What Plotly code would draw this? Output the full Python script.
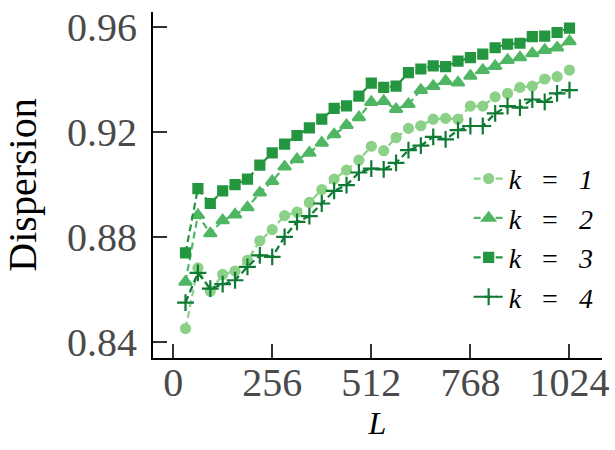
import plotly.graph_objects as go

L = [32 * i for i in range(1, 33)]

k1 = [0.8451, 0.8682, 0.8593, 0.8657, 0.8670, 0.8711, 0.8785, 0.8828, 0.8881, 0.8894,
      0.8931, 0.8980, 0.9020, 0.9054, 0.9092, 0.9145, 0.9128, 0.9178, 0.9213, 0.9223,
      0.9248, 0.9251, 0.9248, 0.9298, 0.9298, 0.9333, 0.9346, 0.9369, 0.9374, 0.9401,
      0.9410, 0.9435]
k2 = [0.8629, 0.8883, 0.8813, 0.8863, 0.8885, 0.8912, 0.8968, 0.9012, 0.9067, 0.9095,
      0.9120, 0.9158, 0.9190, 0.9225, 0.9255, 0.9313, 0.9317, 0.9286, 0.9305, 0.9359,
      0.9374, 0.9393, 0.9387, 0.9413, 0.9435, 0.9450, 0.9473, 0.9483, 0.9498, 0.9511,
      0.9520, 0.9544]
k3 = [0.8739, 0.8984, 0.8927, 0.8975, 0.8999, 0.9020, 0.9073, 0.9120, 0.9153, 0.9186,
      0.9215, 0.9248, 0.9289, 0.9299, 0.9336, 0.9385, 0.9369, 0.9374, 0.9425, 0.9439,
      0.9451, 0.9448, 0.9469, 0.9482, 0.9496, 0.9520, 0.9534, 0.9537, 0.9562, 0.9564,
      0.9578, 0.9595]
k4 = [0.8550, 0.8663, 0.8603, 0.8620, 0.8635, 0.8686, 0.8730, 0.8724, 0.8800, 0.8857,
      0.8879, 0.8927, 0.8975, 0.8997, 0.9045, 0.9060, 0.9057, 0.9082, 0.9130, 0.9147,
      0.9181, 0.9171, 0.9206, 0.9222, 0.9222, 0.9270, 0.9298, 0.9292, 0.9323, 0.9314,
      0.9346, 0.9359]

sp = " \u2002"
names = [f"<i>k</i>{sp}={sp}<i>{i}</i>" for i in (1, 2, 3, 4)]
series = [k1, k2, k3, k4]
colors = ["#8bd187", "#4fb663", "#24963f", "#0e7a34"]
symbols = ["circle", "triangle-up", "square", "cross-thin-open"]
sizes = [9, 11, 9, 12]

xticks = [0, 256, 512, 768, 1024]
yticks = [0.84, 0.88, 0.92, 0.96]

fig = go.Figure()
for nm, ys, c, s, sz in zip(names, series, colors, symbols, sizes):
    fig.add_trace(go.Scatter(
        x=L, y=ys, name=nm, mode="lines+markers",
        line=dict(color=c, width=2.2, dash="7px,4px"),
        marker=dict(symbol=s, size=sz, color=c, line=dict(color=c, width=2.2)),
    ))

font = "Liberation Serif"
fig.update_layout(
    width=615, height=450,
    margin=dict(l=153, r=13, t=12, b=92),
    paper_bgcolor="white", plot_bgcolor="white",
    font=dict(family=font, size=40, color="#4a4a4a"),
    showlegend=True,
    legend=dict(x=0.703, y=0.59, xanchor="left", yanchor="top",
                font=dict(family=font, size=28, color="black"),
                bgcolor="rgba(0,0,0,0)", tracegroupgap=0, itemwidth=30),
    xaxis=dict(range=[-52, 1108], tickvals=xticks, ticktext=[str(v) for v in xticks],
               ticks="inside", ticklen=14, tickwidth=2, tickcolor="#333", automargin=False,
               ticklabelstandoff=-12,
               showline=True, linecolor="black", linewidth=2, showgrid=False, zeroline=False,
               tickfont=dict(family=font, size=40, color="#4a4a4a"),
               title=dict(text="<i>L</i>", font=dict(family=font, size=32, color="black"), standoff=4)),
    yaxis=dict(range=[0.8339, 0.9656], tickvals=yticks, ticktext=["%.2f" % v for v in yticks],
               ticks="inside", ticklen=14, tickwidth=2, tickcolor="#333", ticklabelstandoff=6,
               automargin=False,
               showline=True, linecolor="black", linewidth=2, showgrid=False, zeroline=False,
               tickfont=dict(family=font, size=40, color="#4a4a4a"),
               title=dict(text="Dispersion", font=dict(family=font, size=40, color="black"), standoff=19)),
)

fig.write_html("out.html")
